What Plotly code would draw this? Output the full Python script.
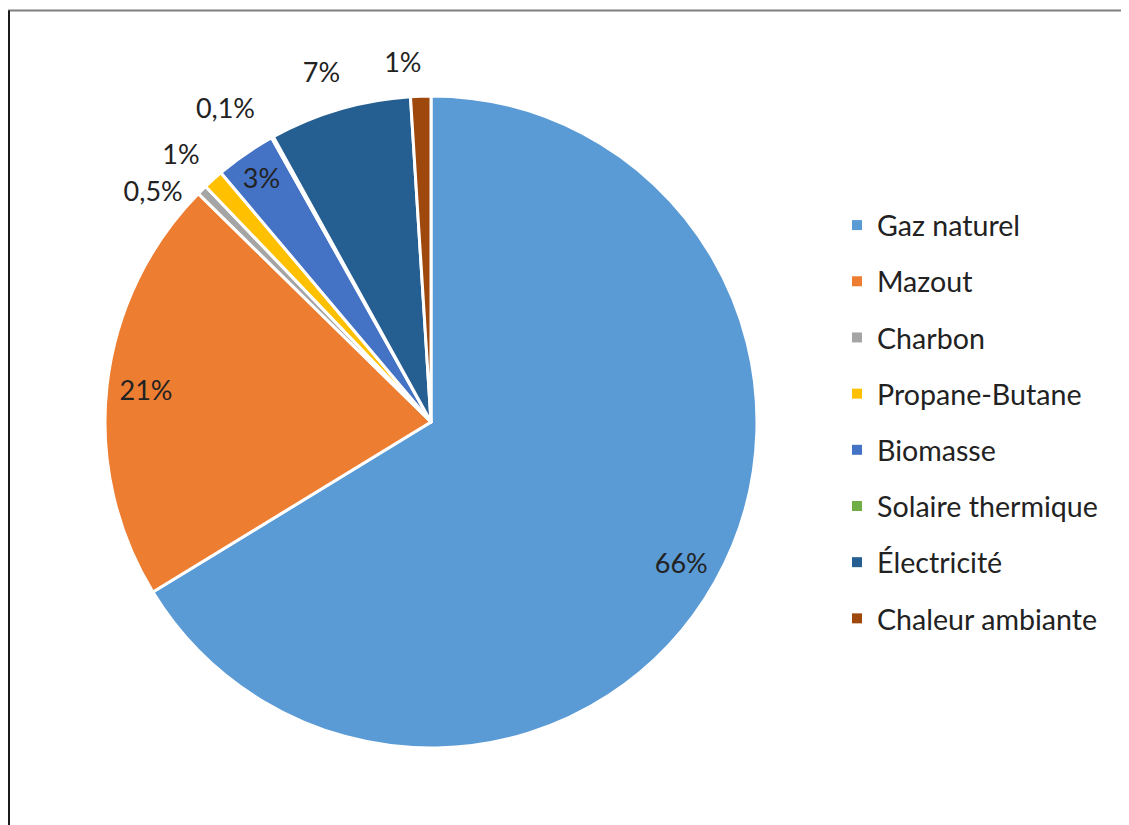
import plotly.graph_objects as go

# The page body adds an 8px offset; the figure is sized and laid out to compensate.
OFF = 8
W, H = 1129 - OFF, 825 - OFF

categories = ["Gaz naturel", "Mazout", "Charbon", "Propane-Butane", "Biomasse",
              "Solaire thermique", "Électricité", "Chaleur ambiante"]
shares = [66, 21, 0.5, 1, 3, 0.1, 7, 1]
colors = ["#5B9BD5", "#ED7D31", "#A5A5A5", "#FFC000", "#4472C4",
          "#70AD47", "#255E91", "#9E480E"]
inside_label = [True, True, False, False, True, False, False, False]

texts = [f"{v:g}".replace(".", ",") + "%" for v in shares]

# label nudges for the outside labels (style only): angular shift (deg), extra radius (px)
label_nudge = {2: (-2.4, 2), 3: (1.2, 16), 5: (0.0, 19), 6: (2.4, 19), 7: (1.6, 18)}

FONT = "Lato"
TXT = "#222222"
FS = 27

cx, cy, R = 431 - OFF, 422 - OFF, 326
n = len(shares)
clear = ["rgba(0,0,0,0)"] * n


def dom(r):
    return dict(x=[(cx - r) / W, (cx + r) / W],
                y=[(H - cy - r) / H, (H - cy + r) / H])


fig = go.Figure()
# main pie: the slices
fig.add_trace(go.Pie(
    labels=categories, values=shares, textinfo="none",
    sort=False, direction="clockwise", rotation=0,
    marker=dict(colors=colors, line=dict(color="white", width=3)),
    domain=dom(R),
    showlegend=False, hoverinfo="label+percent",
))
# transparent ring carrying the inside labels near the rim
fig.add_trace(go.Pie(
    labels=categories, values=shares, hole=0.76,
    text=[(t if ins else "") for t, ins in zip(texts, inside_label)],
    texttemplate="%{text}",
    textposition=[("inside" if ins else "none") for ins in inside_label],
    insidetextorientation="horizontal",
    sort=False, direction="clockwise", rotation=0,
    marker=dict(colors=clear, line=dict(width=0)),
    textfont=dict(family=FONT, size=FS, color=TXT),
    domain=dom(R),
    showlegend=False, hoverinfo="skip",
))
# one transparent layer per outside label (no label shuffling, no leader lines)
for i in range(n):
    if inside_label[i]:
        continue
    dang, dr = label_nudge.get(i, (0.0, 0))
    fig.add_trace(go.Pie(
        labels=categories, values=shares,
        text=[(texts[j] if j == i else "") for j in range(n)],
        texttemplate="%{text}",
        textposition=[("outside" if j == i else "none") for j in range(n)],
        sort=False, direction="clockwise", rotation=dang,
        marker=dict(colors=clear, line=dict(width=0)),
        textfont=dict(family=FONT, size=FS, color=TXT),
        domain=dom(R + dr),
        showlegend=False, hoverinfo="skip",
    ))

for i, (c, col) in enumerate(zip(categories, colors)):
    fig.add_trace(go.Scatter(
        x=[None], y=[None], mode="markers", name=c, legendgroup=f"g{i}",
        marker=dict(symbol="square", size=10, color=col),
        showlegend=True, hoverinfo="skip",
    ))


def py(pix):
    return (H - pix) / H


fig.update_layout(
    width=W, height=H,
    margin=dict(l=0, r=0, t=0, b=0),
    paper_bgcolor="white", plot_bgcolor="white",
    xaxis=dict(visible=False), yaxis=dict(visible=False),
    uniformtext=dict(minsize=FS, mode="show"),
    legend=dict(x=(837 - OFF) / W, y=py(200 - OFF), xanchor="left", yanchor="top",
                font=dict(family=FONT, size=28.6, color=TXT),
                tracegroupgap=16, bgcolor="rgba(0,0,0,0)"),
    shapes=[
        dict(type="line", xref="paper", yref="paper", x0=0, x1=1.0,
             y0=py(10.5 - OFF), y1=py(10.5 - OFF), line=dict(color="#7f7f7f", width=2)),
        dict(type="line", xref="paper", yref="paper", x0=1 / W, x1=1 / W,
             y0=py(10.5 - OFF), y1=0, line=dict(color="#1a1a1a", width=2)),
    ],
)

fig.write_html("out.html")
